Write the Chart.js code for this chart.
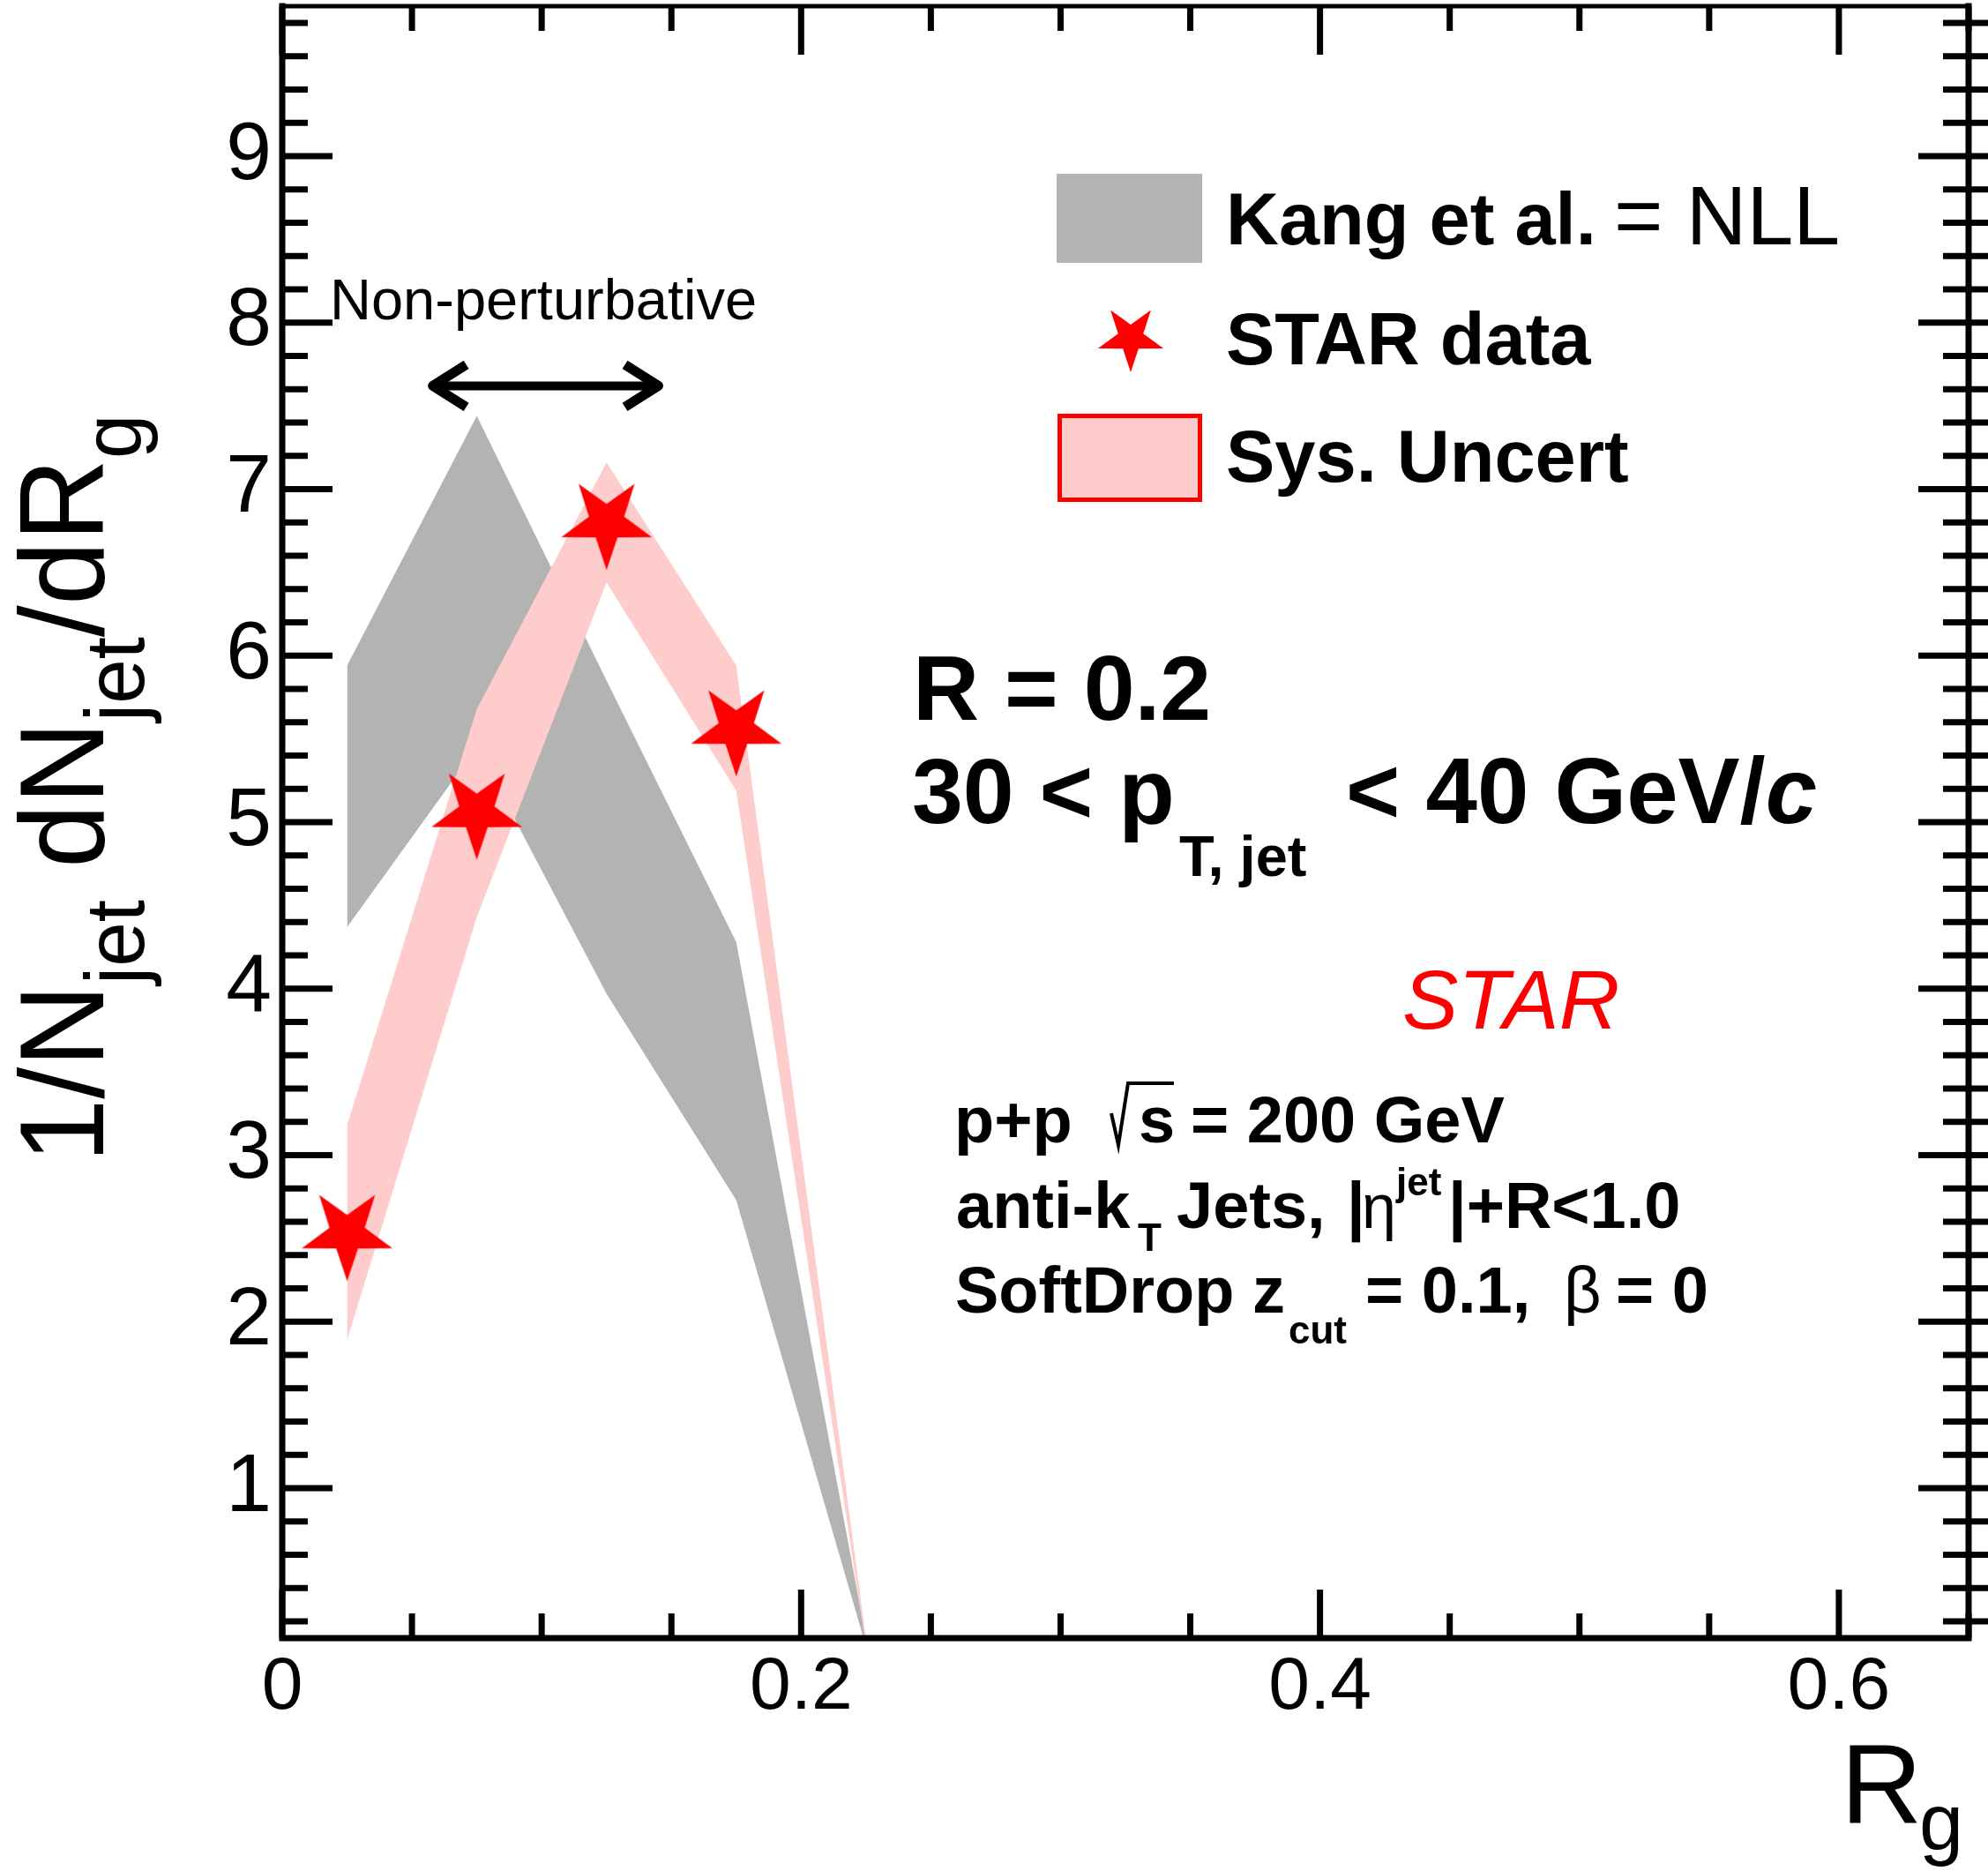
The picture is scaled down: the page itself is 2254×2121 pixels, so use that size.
<!DOCTYPE html>
<html>
<head>
<meta charset="utf-8">
<script src="https://cdn.jsdelivr.net/npm/chart.js@4.4.1/dist/chart.umd.min.js"></script>
<style>
  html, body { margin: 0; padding: 0; background: #fff; }
  #wrap { width: 2254px; height: 2121px; }
</style>
</head>
<body>
<div id="wrap"><canvas id="rgChart" width="2254" height="2121"></canvas></div>
<script>
// R_g bin centres used by the bands
const rgBins = [0.025, 0.075, 0.125, 0.175, 0.225];
// Kang et al. NLL band (lower / upper edge)
const nllLow  = [4.37, 5.45, 3.97, 2.73, 0.05];
const nllHigh = [5.94, 7.44, 5.85, 4.28, 0.10];
// STAR data points
const starRg  = [0.025, 0.075, 0.125, 0.175];
const starVal = [2.53, 5.06, 6.80, 5.56];
// systematic uncertainty band
const sysLow  = [1.89, 4.43, 6.44, 5.19, 0.05];
const sysHigh = [3.18, 5.68, 7.16, 5.94, 0.10];
// tick labels
const xTickLabels = [0, 0.2, 0.4, 0.6];
const yTickLabels = [1, 2, 3, 4, 5, 6, 7, 8, 9];
// "Non-perturbative" arrow, in data units
const npArrowX = [0.058, 0.145];
const npArrowY = 7.62;

const FONT = '"Liberation Sans", Arial, Helvetica, sans-serif';
const GRAY = '#b3b3b3';
const PINK = '#ffcccc';
const RED = '#ff0000';

// inverted five-point star (one point down)
function starPath(ctx, cx, cy, R, r) {
  ctx.beginPath();
  for (let i = 0; i < 10; i++) {
    const a = Math.PI / 2 + i * Math.PI / 5;
    const rad = i % 2 === 0 ? R : r;
    const px = cx + rad * Math.cos(a);
    const py = cy + rad * Math.sin(a);
    if (i === 0) ctx.moveTo(px, py); else ctx.lineTo(px, py);
  }
  ctx.closePath();
}

const starImg = document.createElement('canvas');
starImg.width = 116;
starImg.height = 116;
const sctx = starImg.getContext('2d');
sctx.fillStyle = RED;
starPath(sctx, 58, 58, 54, 21);
sctx.fill();

const pts = (xs, ys) => xs.map((x, i) => ({ x: x, y: ys[i] }));
const onStep = (v, step) => Math.abs(v / step - Math.round(v / step)) < 1e-6;

function put(ctx, text, x, y, size, opts) {
  opts = opts || {};
  ctx.font = (opts.italic ? 'italic ' : '') + (opts.bold ? 'bold ' : '') + size + 'px ' + FONT;
  ctx.fillStyle = opts.color || '#000';
  ctx.fillText(text, x, y);
  return x + ctx.measureText(text).width;
}

// inward ticks on all four sides plus the frame
const framePlugin = {
  id: 'frame',
  afterDraw(chart) {
    const { ctx, chartArea: a, scales: { x, y } } = chart;
    ctx.save();
    ctx.strokeStyle = '#000';
    ctx.lineCap = 'butt';
    ctx.lineWidth = 7;
    ctx.beginPath();
    x.ticks.forEach(t => {
      const px = x.getPixelForValue(t.value);
      const len = onStep(t.value, 0.2) ? 55 : 28;
      ctx.moveTo(px, a.bottom); ctx.lineTo(px, a.bottom - len);
      ctx.moveTo(px, a.top); ctx.lineTo(px, a.top + len);
    });
    y.ticks.forEach(t => {
      const py = y.getPixelForValue(t.value);
      const len = onStep(t.value, 1) ? 57 : 29;
      ctx.moveTo(a.left, py); ctx.lineTo(a.left + len, py);
      ctx.moveTo(a.right + 22, py); ctx.lineTo(a.right - len, py);
    });
    ctx.stroke();

    ctx.lineCap = 'square';
    ctx.beginPath();
    ctx.moveTo(a.left, a.top); ctx.lineTo(a.left, a.bottom);
    ctx.lineTo(a.right, a.bottom); ctx.lineTo(a.right, a.top);
    ctx.stroke();
    ctx.lineWidth = 5;
    ctx.beginPath();
    ctx.moveTo(a.left, a.top); ctx.lineTo(a.right, a.top);
    ctx.stroke();
    ctx.restore();
  }
};

// legend, titles and the text blocks
const notesPlugin = {
  id: 'notes',
  afterDraw(chart) {
    const { ctx, scales: { x, y } } = chart;
    ctx.save();
    ctx.textAlign = 'left';
    ctx.textBaseline = 'alphabetic';

    // legend
    ctx.fillStyle = GRAY;
    ctx.fillRect(1198, 197, 165, 101);
    put(ctx, 'Kang et al.', 1390, 277, 83, { bold: true });
    put(ctx, '= NLL', 1830, 277, 95);
    ctx.fillStyle = RED;
    starPath(ctx, 1282, 383, 39, 15);
    ctx.fill();
    put(ctx, 'STAR data', 1390, 413, 83, { bold: true });
    ctx.fillStyle = PINK;
    ctx.fillRect(1199, 469, 164, 100);
    ctx.strokeStyle = RED;
    ctx.lineWidth = 5;
    ctx.strokeRect(1201.5, 471.5, 159, 95);
    put(ctx, 'Sys. Uncert', 1390, 546, 83, { bold: true });

    // non-perturbative region
    put(ctx, 'Non-perturbative', 374, 362, 65);
    const ax0 = x.getPixelForValue(npArrowX[0]);
    const ax1 = x.getPixelForValue(npArrowX[1]);
    const ay = y.getPixelForValue(npArrowY);
    ctx.strokeStyle = '#000';
    ctx.lineWidth = 10;
    ctx.lineJoin = 'round';
    ctx.beginPath();
    ctx.moveTo(ax0 + 4, ay); ctx.lineTo(ax1 - 4, ay);
    ctx.stroke();
    ctx.lineWidth = 11;
    ctx.beginPath();
    ctx.moveTo(ax0 + 38, ay - 24); ctx.lineTo(ax0, ay); ctx.lineTo(ax0 + 38, ay + 24);
    ctx.moveTo(ax1 - 38, ay - 24); ctx.lineTo(ax1, ay); ctx.lineTo(ax1 - 38, ay + 24);
    ctx.stroke();

    // jet selection
    put(ctx, 'R = 0.2', 1035, 816, 104, { bold: true });
    put(ctx, '30 < p', 1034, 933, 104, { bold: true });
    put(ctx, 'T, jet', 1337, 993, 65, { bold: true });
    let px = put(ctx, '< 40 GeV/', 1526, 933, 105, { bold: true });
    put(ctx, 'c', px, 933, 105, { bold: true, italic: true });

    put(ctx, 'STAR', 1590, 1166, 95, { italic: true, color: RED });

    // p+p sqrt(s)
    put(ctx, 'p+p', 1082, 1295, 74, { bold: true });
    ctx.lineWidth = 4;
    ctx.lineJoin = 'miter';
    ctx.beginPath();
    ctx.moveTo(1260, 1262); ctx.lineTo(1268, 1298); ctx.lineTo(1279, 1228); ctx.lineTo(1331, 1228);
    ctx.stroke();
    put(ctx, 's', 1291, 1295, 74, { bold: true });
    put(ctx, '= 200 GeV', 1350, 1295, 74, { bold: true });

    // anti-kT line
    put(ctx, 'anti-k', 1084, 1392, 74, { bold: true });
    put(ctx, 'T', 1290, 1418, 44, { bold: true });
    put(ctx, 'Jets,', 1334, 1392, 74, { bold: true });
    put(ctx, '|', 1527, 1392, 74, { bold: true });
    put(ctx, '\u03B7', 1544, 1392, 70);
    put(ctx, 'jet', 1583, 1355, 44, { bold: true });
    put(ctx, '|+R<1.0', 1642, 1392, 74, { bold: true });

    // SoftDrop line
    put(ctx, 'SoftDrop z', 1083, 1488, 74, { bold: true });
    put(ctx, 'cut', 1461, 1523, 44, { bold: true });
    put(ctx, '= 0.1,', 1548, 1488, 74, { bold: true });
    put(ctx, '\u03B2', 1773, 1488, 74);
    put(ctx, '= 0', 1832, 1488, 74, { bold: true });

    // x title
    put(ctx, 'R', 2087, 2067, 128);
    put(ctx, 'g', 2176, 2097, 90);

    // y title, rotated
    ctx.translate(117, 1318);
    ctx.rotate(-Math.PI / 2);
    ctx.scale(0.955, 1);
    let t = put(ctx, '1/N', 0, 0, 136);
    t = put(ctx, 'jet', t, 46, 95);
    t = put(ctx, ' dN', t, 0, 136);
    t = put(ctx, 'jet', t, 46, 95);
    t = put(ctx, '/dR', t, 0, 136);
    put(ctx, 'g', t, 42, 95);
    ctx.restore();
  }
};

const ctx = document.getElementById('rgChart').getContext('2d');
new Chart(ctx, {
  type: 'line',
  data: {
    datasets: [
      { label: 'NLL low', data: pts(rgBins, nllLow), order: 3, borderColor: 'rgba(0,0,0,0)', borderWidth: 0, pointRadius: 0, fill: false, tension: 0 },
      { label: 'Kang et al. = NLL', data: pts(rgBins, nllHigh), order: 3, borderColor: 'rgba(0,0,0,0)', borderWidth: 0, pointRadius: 0, fill: '-1', backgroundColor: GRAY, tension: 0 },
      { label: 'Sys low', data: pts(rgBins, sysLow), order: 2, borderColor: 'rgba(0,0,0,0)', borderWidth: 0, pointRadius: 0, fill: false, tension: 0 },
      { label: 'Sys. Uncert', data: pts(rgBins, sysHigh), order: 2, borderColor: 'rgba(0,0,0,0)', borderWidth: 0, pointRadius: 0, fill: '-1', backgroundColor: PINK, tension: 0 },
      { label: 'STAR data', data: pts(starRg, starVal), order: 1, showLine: false, pointStyle: starImg, pointRadius: 54, pointHoverRadius: 54 }
    ]
  },
  options: {
    responsive: false,
    animation: false,
    devicePixelRatio: 1,
    layout: { autoPadding: false, padding: { left: 0, top: 7, right: 22, bottom: 0 } },
    plugins: { legend: { display: false }, tooltip: { enabled: false } },
    scales: {
      x: {
        type: 'linear', min: 0, max: 0.65,
        afterBuildTicks: s => {
          s.ticks = [];
          for (let k = 0; k <= 13; k++) s.ticks.push({ value: k * 5 / 100 });
        },
        afterFit: s => { s.height = 264; s.paddingLeft = 0; s.paddingRight = 0; },
        grid: { display: false, drawTicks: false },
        border: { display: false },
        ticks: {
          autoSkip: false, maxRotation: 0, padding: 6,
          color: '#000', font: { family: FONT, size: 84 },
          callback: v => {
            const k = xTickLabels.find(t => Math.abs(t - v) < 1e-6);
            return k === undefined ? '' : String(k);
          }
        }
      },
      y: {
        type: 'linear', min: 0.1, max: 9.9,
        afterBuildTicks: s => {
          s.ticks = [];
          for (let k = 1; k <= 49; k++) s.ticks.push({ value: k * 2 / 10 });
        },
        afterFit: s => { s.width = 320; s.paddingTop = 0; s.paddingBottom = 0; },
        grid: { display: false, drawTicks: false },
        border: { display: false },
        ticks: {
          autoSkip: false, padding: 12,
          color: '#000', font: { family: FONT, size: 93 },
          callback: v => {
            const k = yTickLabels.find(t => Math.abs(t - v) < 1e-6);
            return k === undefined ? '' : String(k);
          }
        }
      }
    }
  },
  plugins: [framePlugin, notesPlugin]
});
</script>
</body>
</html>
